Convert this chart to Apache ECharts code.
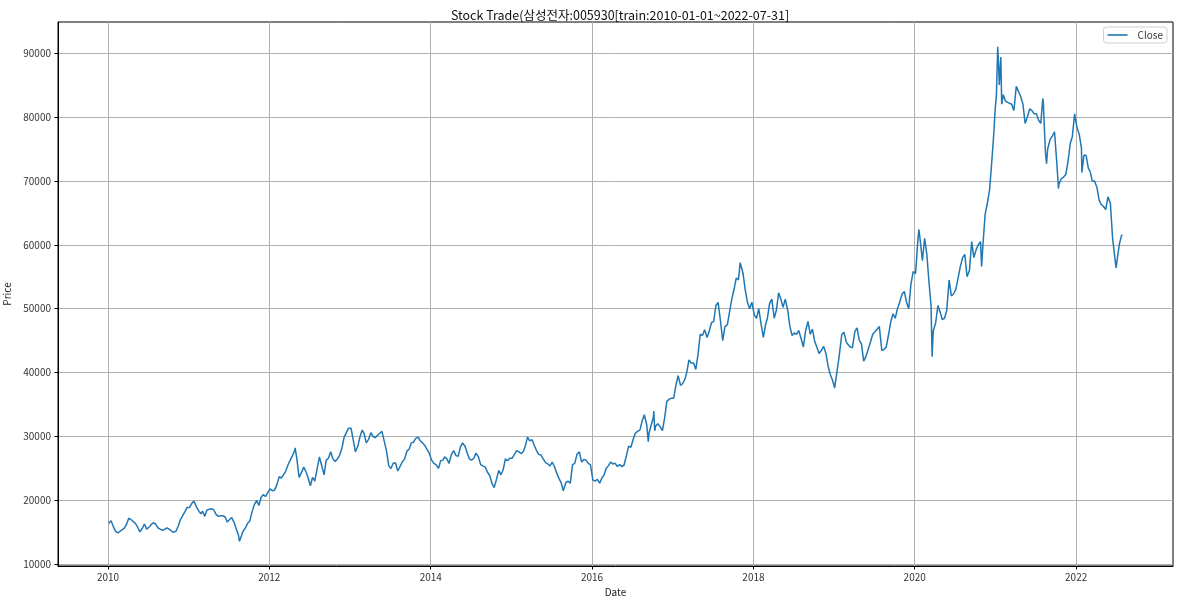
<!DOCTYPE html>
<html><head><meta charset="utf-8">
<script src="https://cdn.jsdelivr.net/npm/echarts@6/dist/echarts.min.js"></script>
<style>html,body{margin:0;padding:0;background:#fff}#c{width:1180px;height:602px}</style>
</head><body><div id="c"></div>
<script>
// Samsung Electronics (005930) close price, sampled on days 5, 15, 25 of each month
const sampleDays = [5, 15, 25];
const close2010 = [16100,16800,15900, 15100,14900,15200, 15300,15600,16200, 17200,17000,16700, 16400,15800,15100, 15600,16300,15500, 15800,16200,16500, 16300,15700,15500, 15300,15500,15700, 15500,15200,15000, 15200,16000,17000, 17600,18200,18900];
const close2011 = [18900,19500,19900, 19000,18400,17900, 18300,17500,18500, 18600,18700,18500, 17800,17500,17600, 17600,17400,16600, 17000,17300,16600, 15500,14500,13900, 15200,15700,16400, 16800,18200,19300, 20000,19200,20500, 20900,20600,21200];
const close2012 = [21800,21500,21600, 22500,23700,23500, 24000,24500,25500, 26300,27000,27800, 26500,23600,24300, 25200,24500,23500, 22300,23600,23000, 25000,26800,25500, 24000,26300,26600, 27600,26500,26100, 26500,27100,28200, 29900,30600,31300];
const close2013 = [31300,29500,27600, 28500,30000,31000, 30500,29000,29500, 30600,30000,29800, 30200,30500,30800, 29200,27700,25400, 25000,25800,25900, 24600,25300,26000, 26500,27700,28000, 29000,29100,29700, 29900,29300,29000, 28600,28000,27400];
const close2014 = [26300,25800,25600, 25000,26200,26300, 26800,26500,25800, 27200,27800,27000, 26900,28300,29000, 28500,27400,26500, 26300,26600,27400, 26800,25600,25400, 25200,24400,23900, 22700,22000,23200, 24700,24000,24800, 26500,26200,26600];
const close2015 = [26600,27200,27800, 27600,27300,27700, 28500,29900,29300, 29500,28600,27800, 27200,27100,26500, 25900,25700,25400, 26000,25300,24300, 23400,22700,21800, 22800,23000,22700, 25600,25800,27200, 27600,26000,26400, 26300,25800,25600];
const close2016 = [23200,23000,23300, 22700,23500,24000, 25000,25400,26000, 25700,25800,25300, 25600,25300,25500, 27000,28500,28300, 29500,30500,30800, 31000,32400,33400, 31800,30500,31800, 33000,31600,32000, 31500,30900,32900, 35500,35800,36000];
const close2017 = [36000,38000,39500, 38000,38300,39000, 40000,42000,41500, 41500,40500,42800, 46000,45800,46700, 45500,46500,47800, 48000,50500,51000, 48000,45000,47200, 47500,49500,51500, 53000,54800,54500, 57000,55500,52900, 51000,50000,51000];
const close2018 = [49000,48500,50000, 47500,45500,47500, 48500,50800,51500, 48500,49800,52500, 51500,50200,51500, 49800,47200,45800, 46200,46000,46600, 45300,44000,46500, 48000,46000,46800, 44900,44000,43000, 43500,44100,43000, 41000,39700,38800];
const close2019 = [38000,40300,42800, 46000,46300,44800, 44400,44000,43900, 46400,47000,45100, 44500,41800,42500, 43700,44800,46000, 46400,46800,47200, 43500,43600,44000, 46000,48000,49200, 48500,50000,51000, 52300,52700,51000, 50000,53800,55800];
const close2020 = [55500,60500,61000, 57500,61000,58500, 54500,50500,46500, 47800,50500,49500, 48300,48500,49700, 54500,52000,52300, 53000,54700,56500, 58000,58500,55000, 56000,60500,58000, 59200,60000,60500, 60000,64800,66500, 68600,73000,77800];
const close2021 = [83500,88000,89400, 83500,82500,82300, 82000,82000,81000, 84800,84000,83200, 82000,79000,80000, 81300,81000,80500, 80500,79500,79000, 82500,74400,75000, 76500,77000,77700, 73000,69500,70300, 70600,71000,73000, 75800,77000,80500];
const close2022 = [78300,77300,75100, 74000,74000,72000, 71500,70000,70000, 69000,67000,66300, 66000,65500,67500, 66500,61000,58000, 57500,60000,61400];
// turning points (peaks / troughs / first and last day)
const turnDates  = ['2010-01-04','2011-01-27','2011-08-19','2012-04-27','2012-07-06','2013-01-02','2013-08-06','2014-10-17','2015-08-24','2016-09-12','2016-10-07','2016-10-11','2017-11-02','2019-01-04','2020-01-20','2020-03-20','2020-10-30','2020-12-30','2021-01-11','2021-01-18','2021-01-29','2021-08-03','2021-08-20','2021-10-13','2022-01-27','2022-07-01','2022-07-29'];
const turnValues = [16400,20200,13600,28200,22000,31500,24300,21700,21500,29200,34000,30900,57200,37600,62400,42500,56600,81000,91000,85000,82000,82900,72700,68800,71300,56400,61600];
const xTickYears = [2010,2012,2014,2016,2018,2020,2022];
const yTicks = [10000,20000,30000,40000,50000,60000,70000,80000,90000];

const years = {2010:close2010,2011:close2011,2012:close2012,2013:close2013,2014:close2014,2015:close2015,2016:close2016,2017:close2017,2018:close2018,2019:close2019,2020:close2020,2021:close2021,2022:close2022};
const points = [];
Object.keys(years).forEach(y => {
  years[y].forEach((v, i) => {
    points.push([Date.UTC(+y, Math.floor(i / 3), sampleDays[i % 3]), v]);
  });
});
turnDates.forEach((s, i) => points.push([Date.parse(s + 'T00:00:00Z'), turnValues[i]]));
points.sort((a, b) => a[0] - b[0]);

const first = Date.UTC(2010,0,4), last = Date.UTC(2022,6,29);
const pad = (last - first) * 0.05;
const xTicks = xTickYears.map(y => Date.UTC(y,0,1));
const FONT = '"Noto Sans CJK KR", "Noto Sans", sans-serif';

const chart = echarts.init(document.getElementById('c'), null, {renderer:'canvas'});
chart.setOption({
  animation: false,
  backgroundColor: '#fff',
  title: {
    text: 'Stock Trade(삼성전자:005930[train:2010-01-01~2022-07-31]',
    left: 615, top: 4, textAlign: 'center',
    textStyle: {fontSize: 12.5, fontWeight: 'normal', color: '#111', fontFamily: FONT}
  },
  legend: {
    right: 13, top: 27, data: ['Close'],
    icon: 'path://M0,0 L20,0 L20,1.6 L0,1.6 Z',
    itemWidth: 20, itemHeight: 2,
    borderColor: '#d0d0d0', borderWidth: 1, borderRadius: 3,
    padding: [3, 4, 3, 4],
    backgroundColor: 'rgba(255,255,255,0.8)',
    textStyle: {fontSize: 10, color: '#333', fontFamily: FONT, padding: [0,0,0,5]}
  },
  grid: {left: 58, right: 7, top: 22, bottom: 36, containLabel: false, outerBoundsMode: 'none',
         show: true, borderColor: '#000', borderWidth: 1, backgroundColor: '#fff'},
  xAxis: {
    type: 'value', min: first - pad, max: last + pad,
    name: 'Date', nameLocation: 'middle', nameGap: 18,
    nameTextStyle: {fontSize: 10, color: '#222', fontFamily: FONT},
    axisLine: {show: true, lineStyle: {color: '#000', width: 1}},
    axisTick: {show: true, customValues: xTicks, length: 3.5, lineStyle: {color: '#000'}},
    axisLabel: {customValues: xTicks, formatter: v => String(new Date(v).getUTCFullYear()), fontSize: 10, color: '#333', margin: 6, fontFamily: FONT},
    splitLine: {show: true, lineStyle: {color: '#b0b0b0', width: 1}}
  },
  yAxis: {
    type: 'value', min: 9730, max: 94870,
    name: 'Price', nameLocation: 'middle', nameGap: 40, nameRotate: 90,
    nameTextStyle: {fontSize: 10, color: '#222', fontFamily: FONT},
    axisLine: {show: true, lineStyle: {color: '#000', width: 1}},
    axisTick: {show: true, customValues: yTicks, length: 3.5, lineStyle: {color: '#000'}},
    axisLabel: {customValues: yTicks, formatter: v => String(v), fontSize: 10, color: '#333', margin: 7, fontFamily: FONT},
    splitLine: {show: true, lineStyle: {color: '#b0b0b0', width: 1}}
  },
  series: [{
    name: 'Close', type: 'line', data: points, showSymbol: false, symbol: 'none',
    lineStyle: {color: '#1f77b4', width: 1.5}, itemStyle: {color: '#1f77b4'}
  }]
});
</script></body></html>
